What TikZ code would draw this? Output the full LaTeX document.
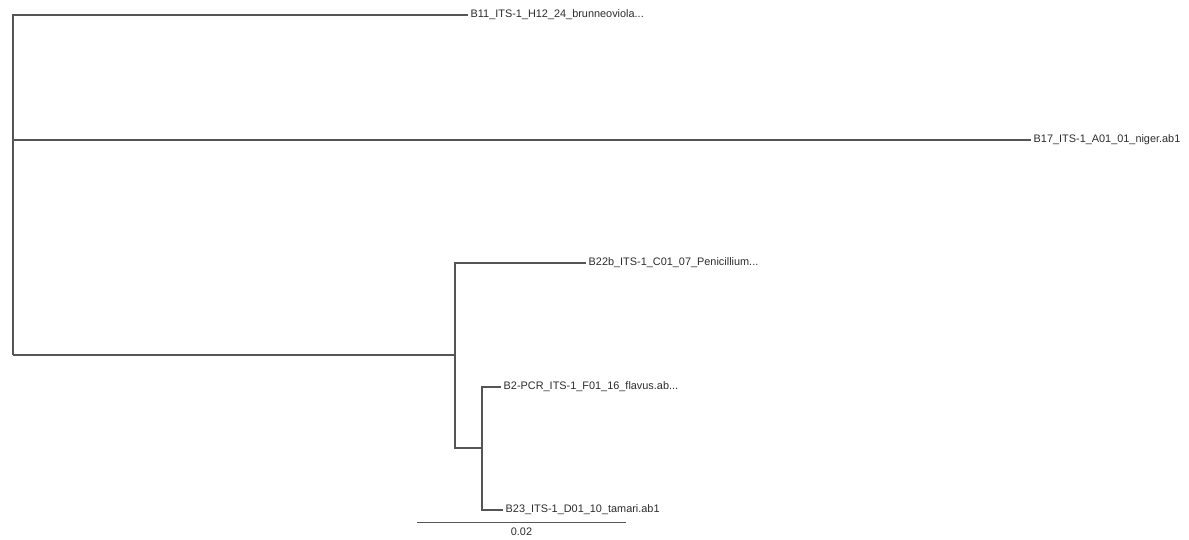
\documentclass[tikz,border=0pt]{standalone}
\usepackage{fontspec}
\setmainfont{Liberation Sans}
\usepackage{tikz}
\usetikzlibrary{positioning,calc}
\definecolor{treeGray}{RGB}{85,85,85}
\definecolor{labelGray}{RGB}{45,45,45}
\tikzset{
  branch/.style={draw=treeGray, line width=1.1pt},
  taxon/.style={anchor=west, inner sep=2.5pt, text=labelGray,
                font=\fontsize{10.9}{12}\selectfont}
}

\begin{document}
\begin{tikzpicture}[x=1pt,y=-1pt]
      \useasboundingbox (0,0) rectangle (1189,540);
      % Internal nodes
      \coordinate (root) at (13,355);
      \coordinate (cladeA) at (455,355);
      \coordinate (cladeB) at (482,448);
      % Leaves
      \node[taxon] (brunneo) at (468,15) {B11\_ITS-1\_H12\_24\_brunneoviola...};
      \node[taxon] (niger) at (1031,140) {B17\_ITS-1\_A01\_01\_niger.ab1};
      \node[taxon] (penic) at (586,263) {B22b\_ITS-1\_C01\_07\_Penicillium...};
      \node[taxon] (flavus) at (501,387) {B2-PCR\_ITS-1\_F01\_16\_flavus.ab...};
      \node[taxon] (tamari) at (503,510) {B23\_ITS-1\_D01\_10\_tamari.ab1};
      % Branches
      \draw[branch] (root) |- (brunneo.west);
      \draw[branch] (root) |- (niger.west);
      \draw[branch] (root) -- (cladeA);
      \draw[branch] (cladeA) |- (penic.west);
      \draw[branch] (cladeA) |- (cladeB);
      \draw[branch] (cladeB) |- (flavus.west);
      \draw[branch] (cladeB) |- (tamari.west);
      % Scale bar
      \coordinate (barL) at (417,522);
      \coordinate (barR) at (626,522);
      \draw[branch, line width=0.9pt] (barL) -- (barR);
      \node[taxon, anchor=north] (barlabel) at ($(barL)!0.5!(barR)+(0,3)$) {0.02};
\end{tikzpicture}
\end{document}
